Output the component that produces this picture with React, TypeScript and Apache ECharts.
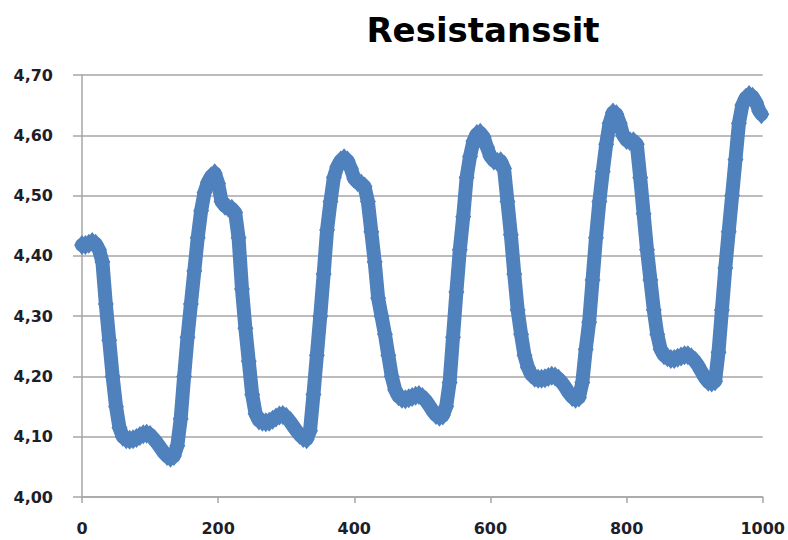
import React, { useEffect, useRef } from "react";
import * as echarts from "echarts";

const titleText = "Resistanssit";
const xTicks = [0, 200, 400, 600, 800, 1000];
const yTicks = [4.0, 4.1, 4.2, 4.3, 4.4, 4.5, 4.6, 4.7];

const xValues = [
  0, 5, 10, 15, 20, 25, 30, 35, 40, 45, 50, 55, 60, 65, 70, 75, 80, 85, 90, 95,
  100, 105, 110, 115, 120, 125, 130, 135, 140, 145, 150, 155, 160, 165, 170, 175, 180, 185, 190, 195,
  200, 205, 210, 215, 220, 225, 230, 235, 240, 245, 250, 255, 260, 265, 270, 275, 280, 285, 290, 295,
  300, 305, 310, 315, 320, 325, 330, 335, 340, 345, 350, 355, 360, 365, 370, 375, 380, 385, 390, 395,
  400, 405, 410, 415, 420, 425, 430, 435, 440, 445, 450, 455, 460, 465, 470, 475, 480, 485, 490, 495,
  500, 505, 510, 515, 520, 525, 530, 535, 540, 545, 550, 555, 560, 565, 570, 575, 580, 585, 590, 595,
  600, 605, 610, 615, 620, 625, 630, 635, 640, 645, 650, 655, 660, 665, 670, 675, 680, 685, 690, 695,
  700, 705, 710, 715, 720, 725, 730, 735, 740, 745, 750, 755, 760, 765, 770, 775, 780, 785, 790, 795,
  800, 805, 810, 815, 820, 825, 830, 835, 840, 845, 850, 855, 860, 865, 870, 875, 880, 885, 890, 895,
  900, 905, 910, 915, 920, 925, 930, 935, 940, 945, 950, 955, 960, 965, 970, 975, 980, 985, 990, 995,
  998,
];

const resistance = [
  4.418, 4.418, 4.42, 4.423, 4.42, 4.41, 4.39, 4.32, 4.26, 4.2, 4.15, 4.115, 4.1, 4.096, 4.095, 4.096, 4.098, 4.101, 4.104, 4.105,
  4.103, 4.097, 4.09, 4.082, 4.074, 4.068, 4.065, 4.068, 4.085, 4.13, 4.2, 4.265, 4.32, 4.375, 4.43, 4.475, 4.505, 4.522, 4.532, 4.537,
  4.52, 4.49, 4.483, 4.48, 4.478, 4.472, 4.43, 4.345, 4.28, 4.225, 4.17, 4.138, 4.127, 4.125, 4.124, 4.125, 4.128, 4.132, 4.135, 4.136,
  4.133, 4.126, 4.118, 4.11, 4.103, 4.098, 4.096, 4.11, 4.17, 4.235, 4.3, 4.37, 4.443, 4.49, 4.53, 4.548, 4.558, 4.562, 4.558, 4.545,
  4.528, 4.522, 4.52, 4.515, 4.49, 4.44, 4.39, 4.33, 4.3, 4.27, 4.235, 4.2, 4.178, 4.167, 4.163, 4.162, 4.164, 4.166, 4.168, 4.169,
  4.166, 4.16, 4.152, 4.143, 4.136, 4.133, 4.135, 4.15, 4.19, 4.265, 4.34, 4.41, 4.465, 4.53, 4.565, 4.59, 4.602, 4.604, 4.597, 4.58,
  4.565, 4.558, 4.556, 4.557, 4.545, 4.49, 4.435, 4.37, 4.31, 4.27, 4.235, 4.215, 4.203, 4.198, 4.196, 4.196, 4.197, 4.199, 4.201, 4.2,
  4.196, 4.19, 4.182, 4.173, 4.166, 4.163, 4.165, 4.19, 4.245, 4.29, 4.36, 4.43, 4.49, 4.54, 4.585, 4.62, 4.638, 4.635, 4.62, 4.6,
  4.592, 4.59, 4.59, 4.585, 4.53, 4.47, 4.41, 4.36, 4.31, 4.27, 4.245, 4.235, 4.232, 4.229, 4.229, 4.231, 4.233, 4.235, 4.235, 4.232,
  4.226, 4.218, 4.208, 4.198, 4.191, 4.19, 4.192, 4.24, 4.31, 4.38, 4.44, 4.5, 4.56, 4.62, 4.65, 4.662, 4.667, 4.664, 4.655, 4.64,
  4.635,
];

const seriesData = xValues.map((x, i) => [x, resistance[i]]);

const FONT = "'DejaVu Sans', Verdana, sans-serif";
const BLUE = "#4F81BD";
const TEXT = "#1e1e2a";
const GRID = "#a6a6a6";

export default function App() {
  const ref = useRef<HTMLDivElement>(null);

  useEffect(() => {
    if (!ref.current) return;
    const chart = echarts.init(ref.current, undefined, { renderer: "svg" });
    chart.setOption({
      animation: false,
      backgroundColor: "#ffffff",
      title: {
        text: titleText,
        left: 478,
        top: 8,
        textAlign: "center",
        textStyle: {
          fontFamily: FONT,
          fontWeight: "bold",
          fontSize: 34,
          color: "#000000",
        },
      },
      grid: { left: 82, right: 23, top: 75, bottom: 43, containLabel: false },
      xAxis: {
        type: "value",
        min: xTicks[0],
        max: xTicks[xTicks.length - 1],
        interval: 200,
        axisLine: { show: true, lineStyle: { color: GRID, width: 1.5 } },
        axisTick: { show: true, length: 6, inside: false, lineStyle: { color: GRID, width: 1.5 } },
        splitLine: { show: false },
        axisLabel: {
          margin: 23,
          fontFamily: FONT,
          fontWeight: "bold",
          fontSize: 16,
          color: TEXT,
          formatter: (v: number) => String(v),
        },
      },
      yAxis: {
        type: "value",
        min: yTicks[0],
        max: yTicks[yTicks.length - 1],
        interval: 0.1,
        axisLine: { show: true, lineStyle: { color: GRID, width: 1.5 } },
        axisTick: { show: true, length: 9, inside: false, lineStyle: { color: GRID, width: 1.5 } },
        splitLine: { show: true, lineStyle: { color: GRID, width: 1.5 } },
        axisLabel: {
          margin: 29,
          fontFamily: FONT,
          fontWeight: "bold",
          fontSize: 16,
          color: TEXT,
          formatter: (v: number) => v.toFixed(2).replace(".", ","),
        },
      },
      series: [
        {
          type: "line",
          data: seriesData,
          showAllSymbol: true,
          symbol: "diamond",
          symbolSize: [16, 20],
          itemStyle: { color: BLUE, borderWidth: 0 },
          lineStyle: { color: BLUE, width: 14, cap: "round", join: "round" },
          clip: false,
          z: 3,
        },
      ],
    });
    return () => chart.dispose();
  }, []);

  return (
    <div
      ref={ref}
      style={{ position: "fixed", left: 0, top: 0, width: 788, height: 540 }}
    />
  );
}
